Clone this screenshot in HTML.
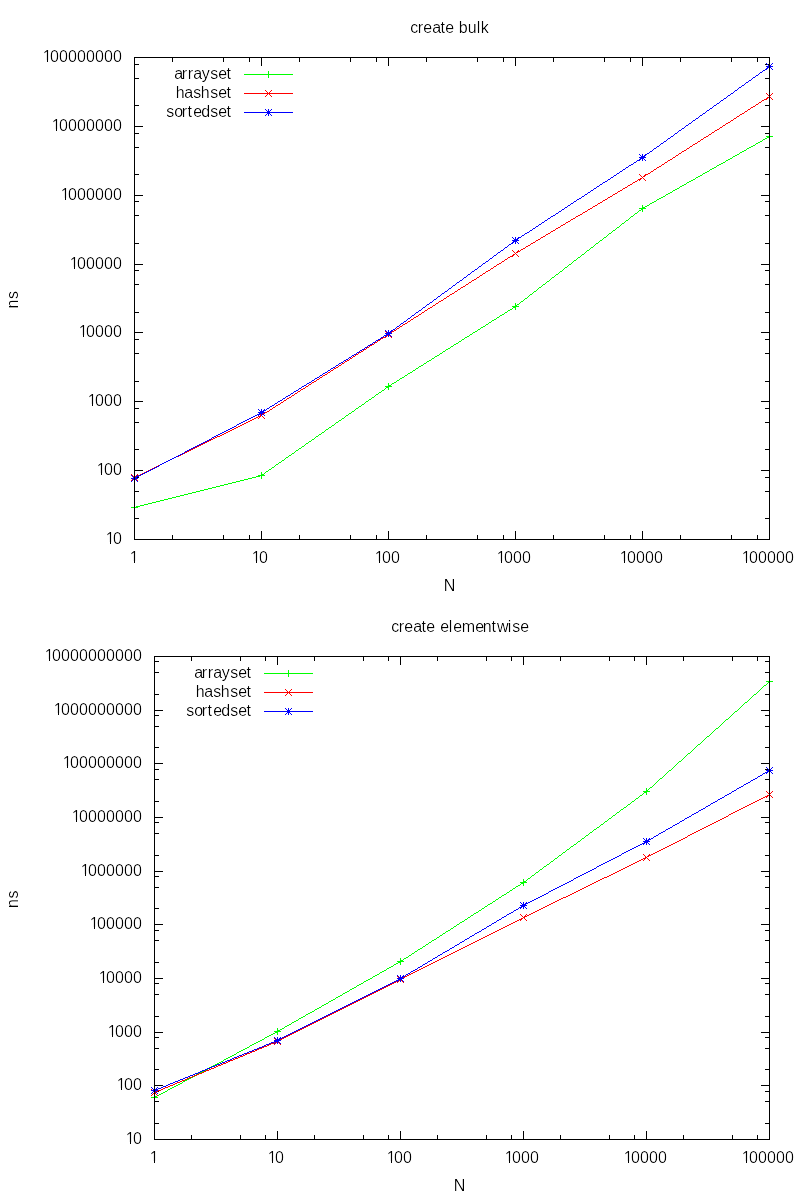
<!DOCTYPE html>
<html><head><meta charset="utf-8"><title>create bulk / create elementwise</title>
<style>
html,body{margin:0;padding:0;background:#fff;width:800px;height:1200px;overflow:hidden}
svg{display:block;will-change:transform}
text{shape-rendering:auto}
</style></head><body>
<svg width="800" height="1200" viewBox="0 0 800 1200" shape-rendering="crispEdges" font-family="'Liberation Sans', Arial, sans-serif" font-size="16" fill="#000"><path fill="#000" d="M134 57h9v1h-9zM172 57h1v5h-1zM223 57h1v5h-1zM249 57h1v5h-1zM261 57h1v9h-1zM299 57h1v5h-1zM350 57h1v5h-1zM376 57h1v5h-1zM388 57h1v9h-1zM426 57h1v5h-1zM477 57h1v5h-1zM503 57h1v5h-1zM515 57h1v9h-1zM553 57h1v5h-1zM604 57h1v5h-1zM630 57h1v5h-1zM642 57h1v9h-1zM680 57h1v5h-1zM731 57h1v5h-1zM757 57h1v5h-1zM761 57h9v1h-9zM134 58h1v6h-1zM769 58h1v6h-1zM134 64h5v1h-5zM765 64h5v1h-5zM134 65h1v1h-1zM769 65h1v1h-1zM134 78h5v1h-5zM765 78h5v1h-5zM134 105h5v1h-5zM765 105h5v1h-5zM134 126h9v1h-9zM761 126h9v1h-9zM134 133h5v1h-5zM765 133h5v1h-5zM134 147h5v1h-5zM765 147h5v1h-5zM134 174h5v1h-5zM765 174h5v1h-5zM134 195h9v1h-9zM761 195h9v1h-9zM134 201h5v1h-5zM765 201h5v1h-5zM134 215h5v1h-5zM765 215h5v1h-5zM134 243h5v1h-5zM765 243h5v1h-5zM134 264h9v1h-9zM761 264h9v1h-9zM134 270h5v1h-5zM765 270h5v1h-5zM134 284h5v1h-5zM765 284h5v1h-5zM134 312h5v1h-5zM765 312h5v1h-5zM134 332h9v1h-9zM761 332h9v1h-9zM134 339h5v1h-5zM765 339h5v1h-5zM134 353h5v1h-5zM765 353h5v1h-5zM134 381h5v1h-5zM765 381h5v1h-5zM134 401h9v1h-9zM761 401h9v1h-9zM134 408h5v1h-5zM765 408h5v1h-5zM134 422h5v1h-5zM765 422h5v1h-5zM134 449h5v1h-5zM765 449h5v1h-5zM134 470h9v1h-9zM761 470h9v1h-9zM134 477h5v1h-5zM765 477h5v1h-5zM134 491h5v1h-5zM765 491h5v1h-5zM134 518h5v1h-5zM765 518h5v1h-5zM134 531h1v8h-1zM261 531h1v9h-1zM388 531h1v9h-1zM515 531h1v9h-1zM642 531h1v9h-1zM769 531h1v8h-1zM172 535h1v5h-1zM223 535h1v5h-1zM249 535h1v5h-1zM299 535h1v5h-1zM350 535h1v5h-1zM376 535h1v5h-1zM426 535h1v5h-1zM477 535h1v5h-1zM503 535h1v5h-1zM553 535h1v5h-1zM604 535h1v5h-1zM630 535h1v5h-1zM680 535h1v5h-1zM731 535h1v5h-1zM757 535h1v5h-1zM134 539h9v1h-9zM761 539h9v1h-9z"/>
<path fill="#00ff00" d="M769 133h1v3h-1zM766 136h7v1h-7zM767 137h3v1h-3zM765 138h2v1h-2zM769 138h1v2h-1zM763 139h2v1h-2zM762 140h1v1h-1zM760 141h2v1h-2zM758 142h2v1h-2zM756 143h2v1h-2zM755 144h1v1h-1zM753 145h2v1h-2zM751 146h2v1h-2zM749 147h2v1h-2zM747 148h2v1h-2zM746 149h1v1h-1zM744 150h2v1h-2zM742 151h2v1h-2zM740 152h2v1h-2zM739 153h1v1h-1zM737 154h2v1h-2zM735 155h2v1h-2zM733 156h2v1h-2zM732 157h1v1h-1zM730 158h2v1h-2zM728 159h2v1h-2zM726 160h2v1h-2zM725 161h1v1h-1zM723 162h2v1h-2zM721 163h2v1h-2zM719 164h2v1h-2zM717 165h2v1h-2zM716 166h1v1h-1zM714 167h2v1h-2zM712 168h2v1h-2zM710 169h2v1h-2zM709 170h1v1h-1zM707 171h2v1h-2zM705 172h2v1h-2zM703 173h2v1h-2zM702 174h1v1h-1zM700 175h2v1h-2zM698 176h2v1h-2zM696 177h2v1h-2zM695 178h1v1h-1zM693 179h2v1h-2zM691 180h2v1h-2zM689 181h2v1h-2zM687 182h2v1h-2zM686 183h1v1h-1zM684 184h2v1h-2zM682 185h2v1h-2zM680 186h2v1h-2zM679 187h1v1h-1zM677 188h2v1h-2zM675 189h2v1h-2zM673 190h2v1h-2zM672 191h1v1h-1zM670 192h2v1h-2zM668 193h2v1h-2zM666 194h2v1h-2zM665 195h1v1h-1zM663 196h2v1h-2zM661 197h2v1h-2zM659 198h2v1h-2zM657 199h2v1h-2zM656 200h1v1h-1zM654 201h2v1h-2zM652 202h2v1h-2zM650 203h2v1h-2zM649 204h1v1h-1zM642 205h1v2h-1zM647 205h2v1h-2zM645 206h2v1h-2zM642 207h3v1h-3zM639 208h7v1h-7zM641 209h2v1h-2zM639 210h2v1h-2zM642 210h1v2h-1zM638 211h1v1h-1zM637 212h1v1h-1zM635 213h2v1h-2zM634 214h1v1h-1zM633 215h1v1h-1zM631 216h2v1h-2zM630 217h1v1h-1zM629 218h1v1h-1zM628 219h1v1h-1zM626 220h2v1h-2zM625 221h1v1h-1zM624 222h1v1h-1zM622 223h2v1h-2zM621 224h1v1h-1zM620 225h1v1h-1zM619 226h1v1h-1zM617 227h2v1h-2zM616 228h1v1h-1zM615 229h1v1h-1zM613 230h2v1h-2zM612 231h1v1h-1zM611 232h1v1h-1zM609 233h2v1h-2zM608 234h1v1h-1zM607 235h1v1h-1zM606 236h1v1h-1zM604 237h2v1h-2zM603 238h1v1h-1zM602 239h1v1h-1zM600 240h2v1h-2zM599 241h1v1h-1zM598 242h1v1h-1zM596 243h2v1h-2zM595 244h1v1h-1zM594 245h1v1h-1zM593 246h1v1h-1zM591 247h2v1h-2zM590 248h1v1h-1zM589 249h1v1h-1zM587 250h2v1h-2zM586 251h1v1h-1zM585 252h1v1h-1zM584 253h1v1h-1zM582 254h2v1h-2zM581 255h1v1h-1zM580 256h1v1h-1zM578 257h2v1h-2zM577 258h1v1h-1zM576 259h1v1h-1zM574 260h2v1h-2zM573 261h1v1h-1zM572 262h1v1h-1zM571 263h1v1h-1zM569 264h2v1h-2zM568 265h1v1h-1zM567 266h1v1h-1zM565 267h2v1h-2zM564 268h1v1h-1zM563 269h1v1h-1zM562 270h1v1h-1zM560 271h2v1h-2zM559 272h1v1h-1zM558 273h1v1h-1zM556 274h2v1h-2zM555 275h1v1h-1zM554 276h1v1h-1zM552 277h2v1h-2zM551 278h1v1h-1zM550 279h1v1h-1zM549 280h1v1h-1zM547 281h2v1h-2zM546 282h1v1h-1zM545 283h1v1h-1zM543 284h2v1h-2zM542 285h1v1h-1zM541 286h1v1h-1zM539 287h2v1h-2zM538 288h1v1h-1zM537 289h1v1h-1zM536 290h1v1h-1zM534 291h2v1h-2zM533 292h1v1h-1zM532 293h1v1h-1zM530 294h2v1h-2zM529 295h1v1h-1zM528 296h1v1h-1zM527 297h1v1h-1zM525 298h2v1h-2zM524 299h1v1h-1zM523 300h1v1h-1zM521 301h2v1h-2zM520 302h1v1h-1zM515 303h1v2h-1zM519 303h1v1h-1zM517 304h2v1h-2zM515 305h2v1h-2zM512 306h7v1h-7zM513 307h3v1h-3zM512 308h1v1h-1zM515 308h1v2h-1zM510 309h2v1h-2zM508 310h2v1h-2zM507 311h1v1h-1zM505 312h2v1h-2zM504 313h1v1h-1zM502 314h2v1h-2zM500 315h2v1h-2zM499 316h1v1h-1zM497 317h2v1h-2zM496 318h1v1h-1zM494 319h2v1h-2zM492 320h2v1h-2zM491 321h1v1h-1zM489 322h2v1h-2zM488 323h1v1h-1zM486 324h2v1h-2zM485 325h1v1h-1zM483 326h2v1h-2zM481 327h2v1h-2zM480 328h1v1h-1zM478 329h2v1h-2zM477 330h1v1h-1zM475 331h2v1h-2zM473 332h2v1h-2zM472 333h1v1h-1zM470 334h2v1h-2zM469 335h1v1h-1zM467 336h2v1h-2zM465 337h2v1h-2zM464 338h1v1h-1zM462 339h2v1h-2zM461 340h1v1h-1zM459 341h2v1h-2zM458 342h1v1h-1zM456 343h2v1h-2zM454 344h2v1h-2zM453 345h1v1h-1zM451 346h2v1h-2zM450 347h1v1h-1zM448 348h2v1h-2zM446 349h2v1h-2zM445 350h1v1h-1zM443 351h2v1h-2zM442 352h1v1h-1zM440 353h2v1h-2zM439 354h1v1h-1zM437 355h2v1h-2zM435 356h2v1h-2zM434 357h1v1h-1zM432 358h2v1h-2zM431 359h1v1h-1zM429 360h2v1h-2zM427 361h2v1h-2zM426 362h1v1h-1zM424 363h2v1h-2zM423 364h1v1h-1zM421 365h2v1h-2zM419 366h2v1h-2zM418 367h1v1h-1zM416 368h2v1h-2zM415 369h1v1h-1zM413 370h2v1h-2zM412 371h1v1h-1zM410 372h2v1h-2zM408 373h2v1h-2zM407 374h1v1h-1zM405 375h2v1h-2zM404 376h1v1h-1zM402 377h2v1h-2zM400 378h2v1h-2zM399 379h1v1h-1zM397 380h2v1h-2zM396 381h1v1h-1zM394 382h2v1h-2zM388 383h1v2h-1zM392 383h2v1h-2zM391 384h1v1h-1zM388 385h3v1h-3zM385 386h7v1h-7zM386 387h3v1h-3zM385 388h1v1h-1zM388 388h1v2h-1zM384 389h1v1h-1zM382 390h2v1h-2zM381 391h1v1h-1zM379 392h2v1h-2zM378 393h1v1h-1zM376 394h2v1h-2zM375 395h1v1h-1zM374 396h1v1h-1zM372 397h2v1h-2zM371 398h1v1h-1zM369 399h2v1h-2zM368 400h1v1h-1zM366 401h2v1h-2zM365 402h1v1h-1zM364 403h1v1h-1zM362 404h2v1h-2zM361 405h1v1h-1zM359 406h2v1h-2zM358 407h1v1h-1zM356 408h2v1h-2zM355 409h1v1h-1zM354 410h1v1h-1zM352 411h2v1h-2zM351 412h1v1h-1zM349 413h2v1h-2zM348 414h1v1h-1zM346 415h2v1h-2zM345 416h1v1h-1zM344 417h1v1h-1zM342 418h2v1h-2zM341 419h1v1h-1zM339 420h2v1h-2zM338 421h1v1h-1zM336 422h2v1h-2zM335 423h1v1h-1zM334 424h1v1h-1zM332 425h2v1h-2zM331 426h1v1h-1zM329 427h2v1h-2zM328 428h1v1h-1zM326 429h2v1h-2zM325 430h1v1h-1zM324 431h1v1h-1zM322 432h2v1h-2zM321 433h1v1h-1zM319 434h2v1h-2zM318 435h1v1h-1zM316 436h2v1h-2zM315 437h1v1h-1zM314 438h1v1h-1zM312 439h2v1h-2zM311 440h1v1h-1zM309 441h2v1h-2zM308 442h1v1h-1zM306 443h2v1h-2zM305 444h1v1h-1zM304 445h1v1h-1zM302 446h2v1h-2zM301 447h1v1h-1zM299 448h2v1h-2zM298 449h1v1h-1zM296 450h2v1h-2zM295 451h1v1h-1zM294 452h1v1h-1zM292 453h2v1h-2zM291 454h1v1h-1zM289 455h2v1h-2zM288 456h1v1h-1zM286 457h2v1h-2zM285 458h1v1h-1zM284 459h1v1h-1zM282 460h2v1h-2zM281 461h1v1h-1zM279 462h2v1h-2zM278 463h1v1h-1zM276 464h2v1h-2zM275 465h1v1h-1zM274 466h1v1h-1zM272 467h2v1h-2zM271 468h1v1h-1zM269 469h2v1h-2zM268 470h1v1h-1zM266 471h2v1h-2zM261 472h1v2h-1zM265 472h1v1h-1zM264 473h1v1h-1zM261 474h3v1h-3zM258 475h7v1h-7zM256 476h4v1h-4zM261 476h1v3h-1zM252 477h4v1h-4zM248 478h4v1h-4zM244 479h4v1h-4zM240 480h4v1h-4zM236 481h4v1h-4zM232 482h4v1h-4zM228 483h4v1h-4zM224 484h4v1h-4zM220 485h4v1h-4zM216 486h4v1h-4zM212 487h4v1h-4zM208 488h4v1h-4zM204 489h4v1h-4zM200 490h4v1h-4zM196 491h4v1h-4zM192 492h4v1h-4zM188 493h4v1h-4zM184 494h4v1h-4zM180 495h4v1h-4zM176 496h4v1h-4zM172 497h4v1h-4zM168 498h4v1h-4zM164 499h4v1h-4zM160 500h4v1h-4zM156 501h4v1h-4zM152 502h4v1h-4zM148 503h4v1h-4zM134 504h1v3h-1zM144 504h4v1h-4zM140 505h4v1h-4zM136 506h4v1h-4zM131 507h7v1h-7zM134 508h1v3h-1z"/>
<path fill="#ff0000" d="M766 93h1v1h-1zM772 93h1v1h-1zM767 94h1v1h-1zM771 94h1v1h-1zM768 95h1v1h-1zM770 95h1v1h-1zM769 96h1v1h-1zM767 97h2v1h-2zM770 97h1v1h-1zM766 98h2v1h-2zM771 98h1v1h-1zM764 99h3v1h-3zM772 99h1v1h-1zM762 100h2v1h-2zM761 101h1v1h-1zM759 102h2v1h-2zM758 103h1v1h-1zM756 104h2v1h-2zM755 105h1v1h-1zM753 106h2v1h-2zM751 107h2v1h-2zM750 108h1v1h-1zM748 109h2v1h-2zM747 110h1v1h-1zM745 111h2v1h-2zM744 112h1v1h-1zM742 113h2v1h-2zM740 114h2v1h-2zM739 115h1v1h-1zM737 116h2v1h-2zM736 117h1v1h-1zM734 118h2v1h-2zM733 119h1v1h-1zM731 120h2v1h-2zM730 121h1v1h-1zM728 122h2v1h-2zM726 123h2v1h-2zM725 124h1v1h-1zM723 125h2v1h-2zM722 126h1v1h-1zM720 127h2v1h-2zM719 128h1v1h-1zM717 129h2v1h-2zM715 130h2v1h-2zM714 131h1v1h-1zM712 132h2v1h-2zM711 133h1v1h-1zM709 134h2v1h-2zM708 135h1v1h-1zM706 136h2v1h-2zM704 137h2v1h-2zM703 138h1v1h-1zM701 139h2v1h-2zM700 140h1v1h-1zM698 141h2v1h-2zM697 142h1v1h-1zM695 143h2v1h-2zM693 144h2v1h-2zM692 145h1v1h-1zM690 146h2v1h-2zM689 147h1v1h-1zM687 148h2v1h-2zM686 149h1v1h-1zM684 150h2v1h-2zM682 151h2v1h-2zM681 152h1v1h-1zM679 153h2v1h-2zM678 154h1v1h-1zM676 155h2v1h-2zM675 156h1v1h-1zM673 157h2v1h-2zM672 158h1v1h-1zM670 159h2v1h-2zM668 160h2v1h-2zM667 161h1v1h-1zM665 162h2v1h-2zM664 163h1v1h-1zM662 164h2v1h-2zM661 165h1v1h-1zM659 166h2v1h-2zM657 167h2v1h-2zM656 168h1v1h-1zM654 169h2v1h-2zM653 170h1v1h-1zM651 171h2v1h-2zM650 172h1v1h-1zM648 173h2v1h-2zM639 174h1v1h-1zM645 174h3v1h-3zM640 175h1v1h-1zM644 175h2v1h-2zM641 176h1v1h-1zM643 176h2v1h-2zM642 177h1v1h-1zM640 178h2v1h-2zM643 178h1v1h-1zM638 179h3v1h-3zM644 179h1v1h-1zM637 180h1v1h-1zM639 180h1v1h-1zM645 180h1v1h-1zM635 181h2v1h-2zM633 182h2v1h-2zM632 183h1v1h-1zM630 184h2v1h-2zM628 185h2v1h-2zM627 186h1v1h-1zM625 187h2v1h-2zM623 188h2v1h-2zM622 189h1v1h-1zM620 190h2v1h-2zM618 191h2v1h-2zM617 192h1v1h-1zM615 193h2v1h-2zM613 194h2v1h-2zM612 195h1v1h-1zM610 196h2v1h-2zM608 197h2v1h-2zM607 198h1v1h-1zM605 199h2v1h-2zM603 200h2v1h-2zM602 201h1v1h-1zM600 202h2v1h-2zM598 203h2v1h-2zM597 204h1v1h-1zM595 205h2v1h-2zM593 206h2v1h-2zM592 207h1v1h-1zM590 208h2v1h-2zM588 209h2v1h-2zM587 210h1v1h-1zM585 211h2v1h-2zM583 212h2v1h-2zM582 213h1v1h-1zM580 214h2v1h-2zM578 215h2v1h-2zM576 216h2v1h-2zM575 217h1v1h-1zM573 218h2v1h-2zM571 219h2v1h-2zM570 220h1v1h-1zM568 221h2v1h-2zM566 222h2v1h-2zM565 223h1v1h-1zM563 224h2v1h-2zM561 225h2v1h-2zM560 226h1v1h-1zM558 227h2v1h-2zM556 228h2v1h-2zM555 229h1v1h-1zM553 230h2v1h-2zM551 231h2v1h-2zM550 232h1v1h-1zM548 233h2v1h-2zM546 234h2v1h-2zM545 235h1v1h-1zM543 236h2v1h-2zM541 237h2v1h-2zM540 238h1v1h-1zM538 239h2v1h-2zM536 240h2v1h-2zM535 241h1v1h-1zM533 242h2v1h-2zM531 243h2v1h-2zM530 244h1v1h-1zM528 245h2v1h-2zM526 246h2v1h-2zM525 247h1v1h-1zM523 248h2v1h-2zM521 249h2v1h-2zM512 250h1v1h-1zM518 250h1v1h-1zM520 250h1v1h-1zM513 251h1v1h-1zM517 251h3v1h-3zM514 252h1v1h-1zM516 252h2v1h-2zM515 253h1v1h-1zM513 254h2v1h-2zM516 254h1v1h-1zM512 255h2v1h-2zM517 255h1v1h-1zM510 256h3v1h-3zM518 256h1v1h-1zM508 257h2v1h-2zM507 258h1v1h-1zM505 259h2v1h-2zM504 260h1v1h-1zM502 261h2v1h-2zM501 262h1v1h-1zM499 263h2v1h-2zM497 264h2v1h-2zM496 265h1v1h-1zM494 266h2v1h-2zM493 267h1v1h-1zM491 268h2v1h-2zM490 269h1v1h-1zM488 270h2v1h-2zM486 271h2v1h-2zM485 272h1v1h-1zM483 273h2v1h-2zM482 274h1v1h-1zM480 275h2v1h-2zM479 276h1v1h-1zM477 277h2v1h-2zM476 278h1v1h-1zM474 279h2v1h-2zM472 280h2v1h-2zM471 281h1v1h-1zM469 282h2v1h-2zM468 283h1v1h-1zM466 284h2v1h-2zM465 285h1v1h-1zM463 286h2v1h-2zM461 287h2v1h-2zM460 288h1v1h-1zM458 289h2v1h-2zM457 290h1v1h-1zM455 291h2v1h-2zM454 292h1v1h-1zM452 293h2v1h-2zM450 294h2v1h-2zM449 295h1v1h-1zM447 296h2v1h-2zM446 297h1v1h-1zM444 298h2v1h-2zM443 299h1v1h-1zM441 300h2v1h-2zM439 301h2v1h-2zM438 302h1v1h-1zM436 303h2v1h-2zM435 304h1v1h-1zM433 305h2v1h-2zM432 306h1v1h-1zM430 307h2v1h-2zM428 308h2v1h-2zM427 309h1v1h-1zM425 310h2v1h-2zM424 311h1v1h-1zM422 312h2v1h-2zM421 313h1v1h-1zM419 314h2v1h-2zM418 315h1v1h-1zM416 316h2v1h-2zM414 317h2v1h-2zM413 318h1v1h-1zM411 319h2v1h-2zM410 320h1v1h-1zM408 321h2v1h-2zM407 322h1v1h-1zM405 323h2v1h-2zM403 324h2v1h-2zM402 325h1v1h-1zM400 326h2v1h-2zM399 327h1v1h-1zM397 328h2v1h-2zM396 329h1v1h-1zM394 330h2v1h-2zM385 331h1v1h-1zM391 331h3v1h-3zM386 332h1v1h-1zM390 332h2v1h-2zM387 333h1v1h-1zM389 333h2v1h-2zM388 334h1v1h-1zM386 335h2v1h-2zM389 335h1v1h-1zM385 336h2v1h-2zM390 336h1v1h-1zM383 337h3v1h-3zM391 337h1v1h-1zM381 338h2v1h-2zM380 339h1v1h-1zM378 340h2v1h-2zM377 341h1v1h-1zM375 342h2v1h-2zM374 343h1v1h-1zM372 344h2v1h-2zM370 345h2v1h-2zM369 346h1v1h-1zM367 347h2v1h-2zM366 348h1v1h-1zM364 349h2v1h-2zM363 350h1v1h-1zM361 351h2v1h-2zM359 352h2v1h-2zM358 353h1v1h-1zM356 354h2v1h-2zM355 355h1v1h-1zM353 356h2v1h-2zM352 357h1v1h-1zM350 358h2v1h-2zM349 359h1v1h-1zM347 360h2v1h-2zM345 361h2v1h-2zM344 362h1v1h-1zM342 363h2v1h-2zM341 364h1v1h-1zM339 365h2v1h-2zM338 366h1v1h-1zM336 367h2v1h-2zM334 368h2v1h-2zM333 369h1v1h-1zM331 370h2v1h-2zM330 371h1v1h-1zM328 372h2v1h-2zM327 373h1v1h-1zM325 374h2v1h-2zM323 375h2v1h-2zM322 376h1v1h-1zM320 377h2v1h-2zM319 378h1v1h-1zM317 379h2v1h-2zM316 380h1v1h-1zM314 381h2v1h-2zM312 382h2v1h-2zM311 383h1v1h-1zM309 384h2v1h-2zM308 385h1v1h-1zM306 386h2v1h-2zM305 387h1v1h-1zM303 388h2v1h-2zM301 389h2v1h-2zM300 390h1v1h-1zM298 391h2v1h-2zM297 392h1v1h-1zM295 393h2v1h-2zM294 394h1v1h-1zM292 395h2v1h-2zM291 396h1v1h-1zM289 397h2v1h-2zM287 398h2v1h-2zM286 399h1v1h-1zM284 400h2v1h-2zM283 401h1v1h-1zM281 402h2v1h-2zM280 403h1v1h-1zM278 404h2v1h-2zM276 405h2v1h-2zM275 406h1v1h-1zM273 407h2v1h-2zM272 408h1v1h-1zM270 409h2v1h-2zM269 410h1v1h-1zM267 411h2v1h-2zM258 412h1v1h-1zM264 412h3v1h-3zM259 413h1v1h-1zM263 413h2v1h-2zM260 414h1v1h-1zM262 414h2v1h-2zM260 415h2v1h-2zM258 416h3v1h-3zM262 416h1v1h-1zM256 417h2v1h-2zM259 417h1v1h-1zM263 417h1v1h-1zM254 418h2v1h-2zM258 418h1v1h-1zM264 418h1v1h-1zM252 419h2v1h-2zM250 420h2v1h-2zM248 421h2v1h-2zM246 422h2v1h-2zM244 423h2v1h-2zM242 424h2v1h-2zM240 425h2v1h-2zM238 426h2v1h-2zM236 427h2v1h-2zM234 428h2v1h-2zM232 429h2v1h-2zM230 430h2v1h-2zM228 431h2v1h-2zM226 432h2v1h-2zM224 433h2v1h-2zM222 434h2v1h-2zM220 435h2v1h-2zM217 436h3v1h-3zM215 437h2v1h-2zM213 438h2v1h-2zM211 439h2v1h-2zM209 440h2v1h-2zM207 441h2v1h-2zM205 442h2v1h-2zM203 443h2v1h-2zM201 444h2v1h-2zM199 445h2v1h-2zM197 446h2v1h-2zM195 447h2v1h-2zM193 448h2v1h-2zM191 449h2v1h-2zM189 450h2v1h-2zM187 451h2v1h-2zM185 452h2v1h-2zM183 453h2v1h-2zM181 454h2v1h-2zM179 455h2v1h-2zM176 456h3v1h-3zM174 457h2v1h-2zM172 458h2v1h-2zM170 459h2v1h-2zM168 460h2v1h-2zM166 461h2v1h-2zM164 462h2v1h-2zM162 463h2v1h-2zM160 464h2v1h-2zM158 465h2v1h-2zM156 466h2v1h-2zM154 467h2v1h-2zM152 468h2v1h-2zM150 469h2v1h-2zM148 470h2v1h-2zM146 471h2v1h-2zM144 472h2v1h-2zM142 473h2v1h-2zM131 474h1v1h-1zM137 474h1v1h-1zM140 474h2v1h-2zM132 475h1v1h-1zM136 475h1v1h-1zM138 475h2v1h-2zM133 476h1v1h-1zM135 476h3v1h-3zM134 477h2v1h-2zM133 478h1v1h-1zM135 478h1v1h-1zM132 479h1v1h-1zM136 479h1v1h-1zM131 480h1v1h-1zM137 480h1v1h-1z"/>
<path fill="#0000ff" d="M766 63h1v1h-1zM769 63h1v2h-1zM772 63h1v1h-1zM767 64h1v1h-1zM771 64h1v1h-1zM768 65h3v1h-3zM766 66h7v1h-7zM767 67h4v1h-4zM766 68h2v1h-2zM769 68h1v2h-1zM771 68h1v1h-1zM765 69h2v1h-2zM772 69h1v1h-1zM763 70h2v1h-2zM762 71h1v1h-1zM760 72h2v1h-2zM759 73h1v1h-1zM758 74h1v1h-1zM756 75h2v1h-2zM755 76h1v1h-1zM753 77h2v1h-2zM752 78h1v1h-1zM751 79h1v1h-1zM749 80h2v1h-2zM748 81h1v1h-1zM746 82h2v1h-2zM745 83h1v1h-1zM744 84h1v1h-1zM742 85h2v1h-2zM741 86h1v1h-1zM739 87h2v1h-2zM738 88h1v1h-1zM737 89h1v1h-1zM735 90h2v1h-2zM734 91h1v1h-1zM733 92h1v1h-1zM731 93h2v1h-2zM730 94h1v1h-1zM728 95h2v1h-2zM727 96h1v1h-1zM726 97h1v1h-1zM724 98h2v1h-2zM723 99h1v1h-1zM721 100h2v1h-2zM720 101h1v1h-1zM719 102h1v1h-1zM717 103h2v1h-2zM716 104h1v1h-1zM714 105h2v1h-2zM713 106h1v1h-1zM712 107h1v1h-1zM710 108h2v1h-2zM709 109h1v1h-1zM707 110h2v1h-2zM706 111h1v1h-1zM705 112h1v1h-1zM703 113h2v1h-2zM702 114h1v1h-1zM700 115h2v1h-2zM699 116h1v1h-1zM698 117h1v1h-1zM696 118h2v1h-2zM695 119h1v1h-1zM693 120h2v1h-2zM692 121h1v1h-1zM691 122h1v1h-1zM689 123h2v1h-2zM688 124h1v1h-1zM686 125h2v1h-2zM685 126h1v1h-1zM684 127h1v1h-1zM682 128h2v1h-2zM681 129h1v1h-1zM679 130h2v1h-2zM678 131h1v1h-1zM677 132h1v1h-1zM675 133h2v1h-2zM674 134h1v1h-1zM673 135h1v1h-1zM671 136h2v1h-2zM670 137h1v1h-1zM668 138h2v1h-2zM667 139h1v1h-1zM666 140h1v1h-1zM664 141h2v1h-2zM663 142h1v1h-1zM661 143h2v1h-2zM660 144h1v1h-1zM659 145h1v1h-1zM657 146h2v1h-2zM656 147h1v1h-1zM654 148h2v1h-2zM653 149h1v1h-1zM652 150h1v1h-1zM650 151h2v1h-2zM649 152h1v1h-1zM647 153h2v1h-2zM639 154h1v1h-1zM642 154h1v2h-1zM645 154h2v1h-2zM640 155h1v1h-1zM644 155h2v1h-2zM641 156h4v1h-4zM639 157h7v1h-7zM640 158h4v1h-4zM639 159h2v1h-2zM642 159h1v2h-1zM644 159h1v1h-1zM637 160h3v1h-3zM645 160h1v1h-1zM636 161h1v1h-1zM634 162h2v1h-2zM633 163h1v1h-1zM631 164h2v1h-2zM629 165h2v1h-2zM628 166h1v1h-1zM626 167h2v1h-2zM625 168h1v1h-1zM623 169h2v1h-2zM622 170h1v1h-1zM620 171h2v1h-2zM619 172h1v1h-1zM617 173h2v1h-2zM616 174h1v1h-1zM614 175h2v1h-2zM613 176h1v1h-1zM611 177h2v1h-2zM610 178h1v1h-1zM608 179h2v1h-2zM607 180h1v1h-1zM605 181h2v1h-2zM603 182h2v1h-2zM602 183h1v1h-1zM600 184h2v1h-2zM599 185h1v1h-1zM597 186h2v1h-2zM596 187h1v1h-1zM594 188h2v1h-2zM593 189h1v1h-1zM591 190h2v1h-2zM590 191h1v1h-1zM588 192h2v1h-2zM587 193h1v1h-1zM585 194h2v1h-2zM584 195h1v1h-1zM582 196h2v1h-2zM581 197h1v1h-1zM579 198h2v1h-2zM577 199h2v1h-2zM576 200h1v1h-1zM574 201h2v1h-2zM573 202h1v1h-1zM571 203h2v1h-2zM570 204h1v1h-1zM568 205h2v1h-2zM567 206h1v1h-1zM565 207h2v1h-2zM564 208h1v1h-1zM562 209h2v1h-2zM561 210h1v1h-1zM559 211h2v1h-2zM558 212h1v1h-1zM556 213h2v1h-2zM555 214h1v1h-1zM553 215h2v1h-2zM551 216h2v1h-2zM550 217h1v1h-1zM548 218h2v1h-2zM547 219h1v1h-1zM545 220h2v1h-2zM544 221h1v1h-1zM542 222h2v1h-2zM541 223h1v1h-1zM539 224h2v1h-2zM538 225h1v1h-1zM536 226h2v1h-2zM535 227h1v1h-1zM533 228h2v1h-2zM532 229h1v1h-1zM530 230h2v1h-2zM529 231h1v1h-1zM527 232h2v1h-2zM525 233h2v1h-2zM524 234h1v1h-1zM522 235h2v1h-2zM521 236h1v1h-1zM512 237h1v1h-1zM515 237h1v2h-1zM518 237h3v1h-3zM513 238h1v1h-1zM517 238h2v1h-2zM514 239h4v1h-4zM512 240h7v1h-7zM513 241h4v1h-4zM512 242h2v1h-2zM515 242h1v2h-1zM517 242h1v1h-1zM511 243h2v1h-2zM518 243h1v1h-1zM509 244h2v1h-2zM508 245h1v1h-1zM507 246h1v1h-1zM505 247h2v1h-2zM504 248h1v1h-1zM503 249h1v1h-1zM501 250h2v1h-2zM500 251h1v1h-1zM498 252h2v1h-2zM497 253h1v1h-1zM496 254h1v1h-1zM494 255h2v1h-2zM493 256h1v1h-1zM492 257h1v1h-1zM490 258h2v1h-2zM489 259h1v1h-1zM488 260h1v1h-1zM486 261h2v1h-2zM485 262h1v1h-1zM483 263h2v1h-2zM482 264h1v1h-1zM481 265h1v1h-1zM479 266h2v1h-2zM478 267h1v1h-1zM477 268h1v1h-1zM475 269h2v1h-2zM474 270h1v1h-1zM472 271h2v1h-2zM471 272h1v1h-1zM470 273h1v1h-1zM468 274h2v1h-2zM467 275h1v1h-1zM466 276h1v1h-1zM464 277h2v1h-2zM463 278h1v1h-1zM462 279h1v1h-1zM460 280h2v1h-2zM459 281h1v1h-1zM457 282h2v1h-2zM456 283h1v1h-1zM455 284h1v1h-1zM453 285h2v1h-2zM452 286h1v1h-1zM451 287h1v1h-1zM449 288h2v1h-2zM448 289h1v1h-1zM447 290h1v1h-1zM445 291h2v1h-2zM444 292h1v1h-1zM442 293h2v1h-2zM441 294h1v1h-1zM440 295h1v1h-1zM438 296h2v1h-2zM437 297h1v1h-1zM436 298h1v1h-1zM434 299h2v1h-2zM433 300h1v1h-1zM432 301h1v1h-1zM430 302h2v1h-2zM429 303h1v1h-1zM427 304h2v1h-2zM426 305h1v1h-1zM425 306h1v1h-1zM423 307h2v1h-2zM422 308h1v1h-1zM421 309h1v1h-1zM419 310h2v1h-2zM418 311h1v1h-1zM416 312h2v1h-2zM415 313h1v1h-1zM414 314h1v1h-1zM412 315h2v1h-2zM411 316h1v1h-1zM410 317h1v1h-1zM408 318h2v1h-2zM407 319h1v1h-1zM406 320h1v1h-1zM404 321h2v1h-2zM403 322h1v1h-1zM401 323h2v1h-2zM400 324h1v1h-1zM399 325h1v1h-1zM397 326h2v1h-2zM396 327h1v1h-1zM395 328h1v1h-1zM393 329h2v1h-2zM385 330h1v1h-1zM388 330h1v2h-1zM391 330h2v1h-2zM386 331h1v1h-1zM390 331h2v1h-2zM387 332h4v1h-4zM385 333h7v1h-7zM386 334h4v1h-4zM384 335h3v1h-3zM388 335h1v2h-1zM390 335h1v1h-1zM383 336h1v1h-1zM385 336h1v1h-1zM391 336h1v1h-1zM381 337h2v1h-2zM380 338h1v1h-1zM378 339h2v1h-2zM376 340h2v1h-2zM375 341h1v1h-1zM373 342h2v1h-2zM372 343h1v1h-1zM370 344h2v1h-2zM368 345h2v1h-2zM367 346h1v1h-1zM365 347h2v1h-2zM364 348h1v1h-1zM362 349h2v1h-2zM360 350h2v1h-2zM359 351h1v1h-1zM357 352h2v1h-2zM356 353h1v1h-1zM354 354h2v1h-2zM352 355h2v1h-2zM351 356h1v1h-1zM349 357h2v1h-2zM348 358h1v1h-1zM346 359h2v1h-2zM344 360h2v1h-2zM343 361h1v1h-1zM341 362h2v1h-2zM339 363h2v1h-2zM338 364h1v1h-1zM336 365h2v1h-2zM335 366h1v1h-1zM333 367h2v1h-2zM331 368h2v1h-2zM330 369h1v1h-1zM328 370h2v1h-2zM327 371h1v1h-1zM325 372h2v1h-2zM323 373h2v1h-2zM322 374h1v1h-1zM320 375h2v1h-2zM319 376h1v1h-1zM317 377h2v1h-2zM315 378h2v1h-2zM314 379h1v1h-1zM312 380h2v1h-2zM311 381h1v1h-1zM309 382h2v1h-2zM307 383h2v1h-2zM306 384h1v1h-1zM304 385h2v1h-2zM302 386h2v1h-2zM301 387h1v1h-1zM299 388h2v1h-2zM298 389h1v1h-1zM296 390h2v1h-2zM294 391h2v1h-2zM293 392h1v1h-1zM291 393h2v1h-2zM290 394h1v1h-1zM288 395h2v1h-2zM286 396h2v1h-2zM285 397h1v1h-1zM283 398h2v1h-2zM282 399h1v1h-1zM280 400h2v1h-2zM278 401h2v1h-2zM277 402h1v1h-1zM275 403h2v1h-2zM274 404h1v1h-1zM272 405h2v1h-2zM270 406h2v1h-2zM269 407h1v1h-1zM267 408h2v1h-2zM258 409h1v1h-1zM261 409h1v2h-1zM264 409h1v1h-1zM266 409h1v1h-1zM259 410h1v1h-1zM263 410h3v1h-3zM260 411h4v1h-4zM258 412h7v1h-7zM259 413h4v1h-4zM257 414h3v1h-3zM261 414h1v2h-1zM263 414h1v1h-1zM255 415h2v1h-2zM258 415h1v1h-1zM264 415h1v1h-1zM253 416h2v1h-2zM251 417h2v1h-2zM249 418h2v1h-2zM247 419h2v1h-2zM245 420h2v1h-2zM243 421h2v1h-2zM241 422h2v1h-2zM239 423h2v1h-2zM237 424h2v1h-2zM236 425h1v1h-1zM234 426h2v1h-2zM232 427h2v1h-2zM230 428h2v1h-2zM228 429h2v1h-2zM226 430h2v1h-2zM224 431h2v1h-2zM222 432h2v1h-2zM220 433h2v1h-2zM218 434h2v1h-2zM216 435h2v1h-2zM214 436h2v1h-2zM212 437h2v1h-2zM211 438h1v1h-1zM209 439h2v1h-2zM207 440h2v1h-2zM205 441h2v1h-2zM203 442h2v1h-2zM201 443h2v1h-2zM199 444h2v1h-2zM197 445h2v1h-2zM195 446h2v1h-2zM193 447h2v1h-2zM191 448h2v1h-2zM189 449h2v1h-2zM187 450h2v1h-2zM185 451h2v1h-2zM184 452h1v1h-1zM182 453h2v1h-2zM180 454h2v1h-2zM178 455h2v1h-2zM176 456h2v1h-2zM174 457h2v1h-2zM172 458h2v1h-2zM170 459h2v1h-2zM168 460h2v1h-2zM166 461h2v1h-2zM164 462h2v1h-2zM162 463h2v1h-2zM160 464h2v1h-2zM159 465h1v1h-1zM157 466h2v1h-2zM155 467h2v1h-2zM153 468h2v1h-2zM151 469h2v1h-2zM149 470h2v1h-2zM147 471h2v1h-2zM145 472h2v1h-2zM143 473h2v1h-2zM141 474h2v1h-2zM131 475h1v1h-1zM134 475h1v2h-1zM137 475h1v1h-1zM139 475h2v1h-2zM132 476h1v1h-1zM136 476h3v1h-3zM133 477h4v1h-4zM131 478h7v1h-7zM133 479h3v1h-3zM132 480h1v1h-1zM134 480h1v2h-1zM136 480h1v1h-1zM131 481h1v1h-1zM137 481h1v1h-1z"/>
<path fill="#00ff00" d="M268 71h1v3h-1zM244 74h49v1h-49zM268 75h1v3h-1z"/>
<path fill="#ff0000" d="M265 90h1v1h-1zM271 90h1v1h-1zM266 91h1v1h-1zM270 91h1v1h-1zM267 92h1v1h-1zM269 92h1v1h-1zM244 93h49v1h-49zM267 94h1v1h-1zM269 94h1v1h-1zM266 95h1v1h-1zM270 95h1v1h-1zM265 96h1v1h-1zM271 96h1v1h-1z"/>
<path fill="#0000ff" d="M265 109h1v1h-1zM268 109h1v2h-1zM271 109h1v1h-1zM266 110h1v1h-1zM270 110h1v1h-1zM267 111h3v1h-3zM244 112h49v1h-49zM267 113h3v1h-3zM266 114h1v1h-1zM268 114h1v2h-1zM270 114h1v1h-1zM265 115h1v1h-1zM271 115h1v1h-1z"/>
<path fill="#000" d="M134 57h636v1h-636zM134 58h1v481h-1zM769 58h1v481h-1zM134 539h636v1h-636z"/>
<path fill="#000" d="M154 656h9v1h-9zM191 656h1v5h-1zM240 656h1v5h-1zM265 656h1v5h-1zM277 656h1v9h-1zM314 656h1v5h-1zM363 656h1v5h-1zM388 656h1v5h-1zM400 656h1v9h-1zM437 656h1v5h-1zM486 656h1v5h-1zM511 656h1v5h-1zM523 656h1v9h-1zM560 656h1v5h-1zM609 656h1v5h-1zM634 656h1v5h-1zM646 656h1v9h-1zM683 656h1v5h-1zM732 656h1v5h-1zM757 656h1v5h-1zM761 656h9v1h-9zM154 657h1v4h-1zM769 657h1v4h-1zM154 661h5v1h-5zM765 661h5v1h-5zM154 662h1v3h-1zM769 662h1v3h-1zM154 672h5v1h-5zM765 672h5v1h-5zM154 694h5v1h-5zM765 694h5v1h-5zM154 710h9v1h-9zM761 710h9v1h-9zM154 715h5v1h-5zM765 715h5v1h-5zM154 726h5v1h-5zM765 726h5v1h-5zM154 747h5v1h-5zM765 747h5v1h-5zM154 763h9v1h-9zM761 763h9v1h-9zM154 769h5v1h-5zM765 769h5v1h-5zM154 779h5v1h-5zM765 779h5v1h-5zM154 801h5v1h-5zM765 801h5v1h-5zM154 817h9v1h-9zM761 817h9v1h-9zM154 822h5v1h-5zM765 822h5v1h-5zM154 833h5v1h-5zM765 833h5v1h-5zM154 855h5v1h-5zM765 855h5v1h-5zM154 871h9v1h-9zM761 871h9v1h-9zM154 876h5v1h-5zM765 876h5v1h-5zM154 887h5v1h-5zM765 887h5v1h-5zM154 908h5v1h-5zM765 908h5v1h-5zM154 924h9v1h-9zM761 924h9v1h-9zM154 930h5v1h-5zM765 930h5v1h-5zM154 940h5v1h-5zM765 940h5v1h-5zM154 962h5v1h-5zM765 962h5v1h-5zM154 978h9v1h-9zM761 978h9v1h-9zM154 983h5v1h-5zM765 983h5v1h-5zM154 994h5v1h-5zM765 994h5v1h-5zM154 1016h5v1h-5zM765 1016h5v1h-5zM154 1032h9v1h-9zM761 1032h9v1h-9zM154 1037h5v1h-5zM765 1037h5v1h-5zM154 1048h5v1h-5zM765 1048h5v1h-5zM154 1069h5v1h-5zM765 1069h5v1h-5zM154 1085h9v1h-9zM761 1085h9v1h-9zM154 1091h5v1h-5zM765 1091h5v1h-5zM154 1101h5v1h-5zM765 1101h5v1h-5zM154 1123h5v1h-5zM765 1123h5v1h-5zM154 1131h1v8h-1zM277 1131h1v9h-1zM400 1131h1v9h-1zM523 1131h1v9h-1zM646 1131h1v9h-1zM769 1131h1v8h-1zM191 1135h1v5h-1zM240 1135h1v5h-1zM265 1135h1v5h-1zM314 1135h1v5h-1zM363 1135h1v5h-1zM388 1135h1v5h-1zM437 1135h1v5h-1zM486 1135h1v5h-1zM511 1135h1v5h-1zM560 1135h1v5h-1zM609 1135h1v5h-1zM634 1135h1v5h-1zM683 1135h1v5h-1zM732 1135h1v5h-1zM757 1135h1v5h-1zM154 1139h9v1h-9zM761 1139h9v1h-9z"/>
<path fill="#00ff00" d="M769 678h1v3h-1zM766 681h7v1h-7zM768 682h2v1h-2zM767 683h1v1h-1zM769 683h1v2h-1zM766 684h1v1h-1zM764 685h2v1h-2zM763 686h1v1h-1zM762 687h1v1h-1zM761 688h1v1h-1zM760 689h1v1h-1zM759 690h1v1h-1zM758 691h1v1h-1zM757 692h1v1h-1zM756 693h1v1h-1zM754 694h2v1h-2zM753 695h1v1h-1zM752 696h1v1h-1zM751 697h1v1h-1zM750 698h1v1h-1zM749 699h1v1h-1zM748 700h1v1h-1zM747 701h1v1h-1zM745 702h2v1h-2zM744 703h1v1h-1zM743 704h1v1h-1zM742 705h1v1h-1zM741 706h1v1h-1zM740 707h1v1h-1zM739 708h1v1h-1zM738 709h1v1h-1zM737 710h1v1h-1zM735 711h2v1h-2zM734 712h1v1h-1zM733 713h1v1h-1zM732 714h1v1h-1zM731 715h1v1h-1zM730 716h1v1h-1zM729 717h1v1h-1zM728 718h1v1h-1zM726 719h2v1h-2zM725 720h1v1h-1zM724 721h1v1h-1zM723 722h1v1h-1zM722 723h1v1h-1zM721 724h1v1h-1zM720 725h1v1h-1zM719 726h1v1h-1zM718 727h1v1h-1zM716 728h2v1h-2zM715 729h1v1h-1zM714 730h1v1h-1zM713 731h1v1h-1zM712 732h1v1h-1zM711 733h1v1h-1zM710 734h1v1h-1zM709 735h1v1h-1zM707 736h2v1h-2zM706 737h1v1h-1zM705 738h1v1h-1zM704 739h1v1h-1zM703 740h1v1h-1zM702 741h1v1h-1zM701 742h1v1h-1zM700 743h1v1h-1zM698 744h2v1h-2zM697 745h1v1h-1zM696 746h1v1h-1zM695 747h1v1h-1zM694 748h1v1h-1zM693 749h1v1h-1zM692 750h1v1h-1zM691 751h1v1h-1zM690 752h1v1h-1zM688 753h2v1h-2zM687 754h1v1h-1zM686 755h1v1h-1zM685 756h1v1h-1zM684 757h1v1h-1zM683 758h1v1h-1zM682 759h1v1h-1zM681 760h1v1h-1zM679 761h2v1h-2zM678 762h1v1h-1zM677 763h1v1h-1zM676 764h1v1h-1zM675 765h1v1h-1zM674 766h1v1h-1zM673 767h1v1h-1zM672 768h1v1h-1zM671 769h1v1h-1zM669 770h2v1h-2zM668 771h1v1h-1zM667 772h1v1h-1zM666 773h1v1h-1zM665 774h1v1h-1zM664 775h1v1h-1zM663 776h1v1h-1zM662 777h1v1h-1zM660 778h2v1h-2zM659 779h1v1h-1zM658 780h1v1h-1zM657 781h1v1h-1zM656 782h1v1h-1zM655 783h1v1h-1zM654 784h1v1h-1zM653 785h1v1h-1zM652 786h1v1h-1zM650 787h2v1h-2zM646 788h1v2h-1zM649 788h1v1h-1zM648 789h1v1h-1zM646 790h2v1h-2zM643 791h7v1h-7zM644 792h3v1h-3zM643 793h1v1h-1zM646 793h1v2h-1zM642 794h1v1h-1zM640 795h2v1h-2zM639 796h1v1h-1zM638 797h1v1h-1zM636 798h2v1h-2zM635 799h1v1h-1zM634 800h1v1h-1zM632 801h2v1h-2zM631 802h1v1h-1zM630 803h1v1h-1zM628 804h2v1h-2zM627 805h1v1h-1zM626 806h1v1h-1zM624 807h2v1h-2zM623 808h1v1h-1zM621 809h2v1h-2zM620 810h1v1h-1zM619 811h1v1h-1zM617 812h2v1h-2zM616 813h1v1h-1zM615 814h1v1h-1zM613 815h2v1h-2zM612 816h1v1h-1zM611 817h1v1h-1zM609 818h2v1h-2zM608 819h1v1h-1zM607 820h1v1h-1zM605 821h2v1h-2zM604 822h1v1h-1zM603 823h1v1h-1zM601 824h2v1h-2zM600 825h1v1h-1zM599 826h1v1h-1zM597 827h2v1h-2zM596 828h1v1h-1zM594 829h2v1h-2zM593 830h1v1h-1zM592 831h1v1h-1zM590 832h2v1h-2zM589 833h1v1h-1zM588 834h1v1h-1zM586 835h2v1h-2zM585 836h1v1h-1zM584 837h1v1h-1zM582 838h2v1h-2zM581 839h1v1h-1zM580 840h1v1h-1zM578 841h2v1h-2zM577 842h1v1h-1zM576 843h1v1h-1zM574 844h2v1h-2zM573 845h1v1h-1zM571 846h2v1h-2zM570 847h1v1h-1zM569 848h1v1h-1zM567 849h2v1h-2zM566 850h1v1h-1zM565 851h1v1h-1zM563 852h2v1h-2zM562 853h1v1h-1zM561 854h1v1h-1zM559 855h2v1h-2zM558 856h1v1h-1zM557 857h1v1h-1zM555 858h2v1h-2zM554 859h1v1h-1zM553 860h1v1h-1zM551 861h2v1h-2zM550 862h1v1h-1zM549 863h1v1h-1zM547 864h2v1h-2zM546 865h1v1h-1zM544 866h2v1h-2zM543 867h1v1h-1zM542 868h1v1h-1zM540 869h2v1h-2zM539 870h1v1h-1zM538 871h1v1h-1zM536 872h2v1h-2zM535 873h1v1h-1zM534 874h1v1h-1zM532 875h2v1h-2zM531 876h1v1h-1zM530 877h1v1h-1zM528 878h2v1h-2zM523 879h1v2h-1zM527 879h1v1h-1zM526 880h1v1h-1zM523 881h3v1h-3zM520 882h7v1h-7zM521 883h3v1h-3zM520 884h1v1h-1zM523 884h1v2h-1zM518 885h2v1h-2zM516 886h2v1h-2zM515 887h1v1h-1zM513 888h2v1h-2zM512 889h1v1h-1zM510 890h2v1h-2zM509 891h1v1h-1zM507 892h2v1h-2zM506 893h1v1h-1zM504 894h2v1h-2zM502 895h2v1h-2zM501 896h1v1h-1zM499 897h2v1h-2zM498 898h1v1h-1zM496 899h2v1h-2zM495 900h1v1h-1zM493 901h2v1h-2zM492 902h1v1h-1zM490 903h2v1h-2zM488 904h2v1h-2zM487 905h1v1h-1zM485 906h2v1h-2zM484 907h1v1h-1zM482 908h2v1h-2zM481 909h1v1h-1zM479 910h2v1h-2zM478 911h1v1h-1zM476 912h2v1h-2zM474 913h2v1h-2zM473 914h1v1h-1zM471 915h2v1h-2zM470 916h1v1h-1zM468 917h2v1h-2zM467 918h1v1h-1zM465 919h2v1h-2zM464 920h1v1h-1zM462 921h2v1h-2zM460 922h2v1h-2zM459 923h1v1h-1zM457 924h2v1h-2zM456 925h1v1h-1zM454 926h2v1h-2zM453 927h1v1h-1zM451 928h2v1h-2zM450 929h1v1h-1zM448 930h2v1h-2zM446 931h2v1h-2zM445 932h1v1h-1zM443 933h2v1h-2zM442 934h1v1h-1zM440 935h2v1h-2zM439 936h1v1h-1zM437 937h2v1h-2zM436 938h1v1h-1zM434 939h2v1h-2zM432 940h2v1h-2zM431 941h1v1h-1zM429 942h2v1h-2zM428 943h1v1h-1zM426 944h2v1h-2zM425 945h1v1h-1zM423 946h2v1h-2zM422 947h1v1h-1zM420 948h2v1h-2zM418 949h2v1h-2zM417 950h1v1h-1zM415 951h2v1h-2zM414 952h1v1h-1zM412 953h2v1h-2zM411 954h1v1h-1zM409 955h2v1h-2zM408 956h1v1h-1zM406 957h2v1h-2zM400 958h1v2h-1zM404 958h2v1h-2zM403 959h1v1h-1zM400 960h3v1h-3zM397 961h7v1h-7zM398 962h3v1h-3zM396 963h2v1h-2zM400 963h1v2h-1zM394 964h2v1h-2zM393 965h1v1h-1zM391 966h2v1h-2zM389 967h2v1h-2zM387 968h2v1h-2zM386 969h1v1h-1zM384 970h2v1h-2zM382 971h2v1h-2zM380 972h2v1h-2zM379 973h1v1h-1zM377 974h2v1h-2zM375 975h2v1h-2zM373 976h2v1h-2zM372 977h1v1h-1zM370 978h2v1h-2zM368 979h2v1h-2zM366 980h2v1h-2zM364 981h2v1h-2zM363 982h1v1h-1zM361 983h2v1h-2zM359 984h2v1h-2zM357 985h2v1h-2zM356 986h1v1h-1zM354 987h2v1h-2zM352 988h2v1h-2zM350 989h2v1h-2zM349 990h1v1h-1zM347 991h2v1h-2zM345 992h2v1h-2zM343 993h2v1h-2zM342 994h1v1h-1zM340 995h2v1h-2zM338 996h2v1h-2zM336 997h2v1h-2zM335 998h1v1h-1zM333 999h2v1h-2zM331 1000h2v1h-2zM329 1001h2v1h-2zM328 1002h1v1h-1zM326 1003h2v1h-2zM324 1004h2v1h-2zM322 1005h2v1h-2zM321 1006h1v1h-1zM319 1007h2v1h-2zM317 1008h2v1h-2zM315 1009h2v1h-2zM314 1010h1v1h-1zM312 1011h2v1h-2zM310 1012h2v1h-2zM308 1013h2v1h-2zM306 1014h2v1h-2zM305 1015h1v1h-1zM303 1016h2v1h-2zM301 1017h2v1h-2zM299 1018h2v1h-2zM298 1019h1v1h-1zM296 1020h2v1h-2zM294 1021h2v1h-2zM292 1022h2v1h-2zM291 1023h1v1h-1zM289 1024h2v1h-2zM287 1025h2v1h-2zM285 1026h2v1h-2zM284 1027h1v1h-1zM277 1028h1v2h-1zM282 1028h2v1h-2zM280 1029h2v1h-2zM277 1030h3v1h-3zM274 1031h7v1h-7zM275 1032h3v1h-3zM273 1033h2v1h-2zM277 1033h1v2h-1zM271 1034h2v1h-2zM269 1035h2v1h-2zM267 1036h2v1h-2zM265 1037h2v1h-2zM264 1038h1v1h-1zM262 1039h2v1h-2zM260 1040h2v1h-2zM258 1041h2v1h-2zM256 1042h2v1h-2zM254 1043h2v1h-2zM252 1044h2v1h-2zM250 1045h2v1h-2zM249 1046h1v1h-1zM247 1047h2v1h-2zM245 1048h2v1h-2zM243 1049h2v1h-2zM241 1050h2v1h-2zM239 1051h2v1h-2zM237 1052h2v1h-2zM236 1053h1v1h-1zM234 1054h2v1h-2zM232 1055h2v1h-2zM230 1056h2v1h-2zM228 1057h2v1h-2zM226 1058h2v1h-2zM224 1059h2v1h-2zM223 1060h1v1h-1zM221 1061h2v1h-2zM219 1062h2v1h-2zM217 1063h2v1h-2zM215 1064h2v1h-2zM213 1065h2v1h-2zM211 1066h2v1h-2zM209 1067h2v1h-2zM208 1068h1v1h-1zM206 1069h2v1h-2zM204 1070h2v1h-2zM202 1071h2v1h-2zM200 1072h2v1h-2zM198 1073h2v1h-2zM196 1074h2v1h-2zM195 1075h1v1h-1zM193 1076h2v1h-2zM191 1077h2v1h-2zM189 1078h2v1h-2zM187 1079h2v1h-2zM185 1080h2v1h-2zM183 1081h2v1h-2zM182 1082h1v1h-1zM180 1083h2v1h-2zM178 1084h2v1h-2zM176 1085h2v1h-2zM174 1086h2v1h-2zM172 1087h2v1h-2zM170 1088h2v1h-2zM168 1089h2v1h-2zM167 1090h1v1h-1zM165 1091h2v1h-2zM163 1092h2v1h-2zM161 1093h2v1h-2zM154 1094h1v2h-1zM159 1094h2v1h-2zM157 1095h2v1h-2zM154 1096h3v1h-3zM151 1097h7v1h-7zM154 1098h1v3h-1z"/>
<path fill="#ff0000" d="M766 791h1v1h-1zM772 791h1v1h-1zM767 792h1v1h-1zM771 792h1v1h-1zM768 793h1v1h-1zM770 793h1v1h-1zM769 794h1v1h-1zM767 795h2v1h-2zM770 795h1v1h-1zM765 796h3v1h-3zM771 796h1v1h-1zM763 797h2v1h-2zM766 797h1v1h-1zM772 797h1v1h-1zM761 798h2v1h-2zM759 799h2v1h-2zM757 800h2v1h-2zM755 801h2v1h-2zM753 802h2v1h-2zM751 803h2v1h-2zM749 804h2v1h-2zM747 805h2v1h-2zM745 806h2v1h-2zM743 807h2v1h-2zM741 808h2v1h-2zM739 809h2v1h-2zM737 810h2v1h-2zM735 811h2v1h-2zM733 812h2v1h-2zM731 813h2v1h-2zM729 814h2v1h-2zM728 815h1v1h-1zM726 816h2v1h-2zM724 817h2v1h-2zM722 818h2v1h-2zM720 819h2v1h-2zM718 820h2v1h-2zM716 821h2v1h-2zM714 822h2v1h-2zM712 823h2v1h-2zM710 824h2v1h-2zM708 825h2v1h-2zM706 826h2v1h-2zM704 827h2v1h-2zM702 828h2v1h-2zM700 829h2v1h-2zM698 830h2v1h-2zM696 831h2v1h-2zM694 832h2v1h-2zM692 833h2v1h-2zM690 834h2v1h-2zM688 835h2v1h-2zM687 836h1v1h-1zM685 837h2v1h-2zM683 838h2v1h-2zM681 839h2v1h-2zM679 840h2v1h-2zM677 841h2v1h-2zM675 842h2v1h-2zM673 843h2v1h-2zM671 844h2v1h-2zM669 845h2v1h-2zM667 846h2v1h-2zM665 847h2v1h-2zM663 848h2v1h-2zM661 849h2v1h-2zM659 850h2v1h-2zM657 851h2v1h-2zM655 852h2v1h-2zM653 853h2v1h-2zM643 854h1v1h-1zM649 854h1v1h-1zM651 854h2v1h-2zM644 855h1v1h-1zM648 855h3v1h-3zM645 856h1v1h-1zM647 856h2v1h-2zM645 857h2v1h-2zM643 858h3v1h-3zM647 858h1v1h-1zM641 859h2v1h-2zM644 859h1v1h-1zM648 859h1v1h-1zM639 860h2v1h-2zM643 860h1v1h-1zM649 860h1v1h-1zM637 861h2v1h-2zM635 862h2v1h-2zM633 863h2v1h-2zM631 864h2v1h-2zM629 865h2v1h-2zM627 866h2v1h-2zM625 867h2v1h-2zM623 868h2v1h-2zM621 869h2v1h-2zM619 870h2v1h-2zM617 871h2v1h-2zM615 872h2v1h-2zM613 873h2v1h-2zM611 874h2v1h-2zM609 875h2v1h-2zM607 876h2v1h-2zM604 877h3v1h-3zM602 878h2v1h-2zM600 879h2v1h-2zM598 880h2v1h-2zM596 881h2v1h-2zM594 882h2v1h-2zM592 883h2v1h-2zM590 884h2v1h-2zM588 885h2v1h-2zM586 886h2v1h-2zM584 887h2v1h-2zM582 888h2v1h-2zM580 889h2v1h-2zM578 890h2v1h-2zM576 891h2v1h-2zM574 892h2v1h-2zM572 893h2v1h-2zM570 894h2v1h-2zM568 895h2v1h-2zM566 896h2v1h-2zM563 897h3v1h-3zM561 898h2v1h-2zM559 899h2v1h-2zM557 900h2v1h-2zM555 901h2v1h-2zM553 902h2v1h-2zM551 903h2v1h-2zM549 904h2v1h-2zM547 905h2v1h-2zM545 906h2v1h-2zM543 907h2v1h-2zM541 908h2v1h-2zM539 909h2v1h-2zM537 910h2v1h-2zM535 911h2v1h-2zM533 912h2v1h-2zM531 913h2v1h-2zM520 914h1v1h-1zM526 914h1v1h-1zM529 914h2v1h-2zM521 915h1v1h-1zM525 915h1v1h-1zM527 915h2v1h-2zM522 916h1v1h-1zM524 916h3v1h-3zM523 917h2v1h-2zM521 918h2v1h-2zM524 918h1v1h-1zM519 919h3v1h-3zM525 919h1v1h-1zM517 920h2v1h-2zM520 920h1v1h-1zM526 920h1v1h-1zM515 921h2v1h-2zM513 922h2v1h-2zM511 923h2v1h-2zM509 924h2v1h-2zM507 925h2v1h-2zM505 926h2v1h-2zM503 927h2v1h-2zM501 928h2v1h-2zM499 929h2v1h-2zM497 930h2v1h-2zM495 931h2v1h-2zM493 932h2v1h-2zM491 933h2v1h-2zM489 934h2v1h-2zM487 935h2v1h-2zM485 936h2v1h-2zM483 937h2v1h-2zM481 938h2v1h-2zM479 939h2v1h-2zM477 940h2v1h-2zM475 941h2v1h-2zM473 942h2v1h-2zM471 943h2v1h-2zM469 944h2v1h-2zM467 945h2v1h-2zM465 946h2v1h-2zM463 947h2v1h-2zM461 948h2v1h-2zM459 949h2v1h-2zM457 950h2v1h-2zM455 951h2v1h-2zM453 952h2v1h-2zM451 953h2v1h-2zM449 954h2v1h-2zM447 955h2v1h-2zM445 956h2v1h-2zM443 957h2v1h-2zM441 958h2v1h-2zM439 959h2v1h-2zM437 960h2v1h-2zM435 961h2v1h-2zM433 962h2v1h-2zM431 963h2v1h-2zM429 964h2v1h-2zM427 965h2v1h-2zM425 966h2v1h-2zM423 967h2v1h-2zM421 968h2v1h-2zM419 969h2v1h-2zM417 970h2v1h-2zM415 971h2v1h-2zM413 972h2v1h-2zM411 973h2v1h-2zM409 974h2v1h-2zM407 975h2v1h-2zM397 976h1v1h-1zM403 976h1v1h-1zM405 976h2v1h-2zM398 977h1v1h-1zM402 977h3v1h-3zM399 978h1v1h-1zM401 978h2v1h-2zM400 979h1v1h-1zM398 980h2v1h-2zM401 980h1v1h-1zM396 981h3v1h-3zM402 981h1v1h-1zM394 982h2v1h-2zM397 982h1v1h-1zM403 982h1v1h-1zM392 983h2v1h-2zM390 984h2v1h-2zM388 985h2v1h-2zM386 986h2v1h-2zM384 987h2v1h-2zM382 988h2v1h-2zM380 989h2v1h-2zM378 990h2v1h-2zM376 991h2v1h-2zM374 992h2v1h-2zM372 993h2v1h-2zM370 994h2v1h-2zM368 995h2v1h-2zM366 996h2v1h-2zM364 997h2v1h-2zM362 998h2v1h-2zM360 999h2v1h-2zM358 1000h2v1h-2zM356 1001h2v1h-2zM354 1002h2v1h-2zM352 1003h2v1h-2zM350 1004h2v1h-2zM348 1005h2v1h-2zM346 1006h2v1h-2zM344 1007h2v1h-2zM342 1008h2v1h-2zM340 1009h2v1h-2zM338 1010h2v1h-2zM336 1011h2v1h-2zM334 1012h2v1h-2zM332 1013h2v1h-2zM330 1014h2v1h-2zM328 1015h2v1h-2zM326 1016h2v1h-2zM324 1017h2v1h-2zM322 1018h2v1h-2zM320 1019h2v1h-2zM318 1020h2v1h-2zM316 1021h2v1h-2zM314 1022h2v1h-2zM312 1023h2v1h-2zM310 1024h2v1h-2zM308 1025h2v1h-2zM306 1026h2v1h-2zM304 1027h2v1h-2zM302 1028h2v1h-2zM300 1029h2v1h-2zM298 1030h2v1h-2zM296 1031h2v1h-2zM294 1032h2v1h-2zM292 1033h2v1h-2zM290 1034h2v1h-2zM288 1035h2v1h-2zM286 1036h2v1h-2zM284 1037h2v1h-2zM274 1038h1v1h-1zM280 1038h1v1h-1zM282 1038h2v1h-2zM275 1039h1v1h-1zM279 1039h3v1h-3zM276 1040h1v1h-1zM278 1040h2v1h-2zM276 1041h2v1h-2zM274 1042h3v1h-3zM278 1042h1v1h-1zM271 1043h3v1h-3zM275 1043h1v1h-1zM279 1043h1v1h-1zM269 1044h2v1h-2zM274 1044h1v1h-1zM280 1044h1v1h-1zM267 1045h2v1h-2zM264 1046h3v1h-3zM262 1047h2v1h-2zM259 1048h3v1h-3zM257 1049h2v1h-2zM255 1050h2v1h-2zM252 1051h3v1h-3zM250 1052h2v1h-2zM247 1053h3v1h-3zM245 1054h2v1h-2zM243 1055h2v1h-2zM240 1056h3v1h-3zM238 1057h2v1h-2zM235 1058h3v1h-3zM233 1059h2v1h-2zM230 1060h3v1h-3zM228 1061h2v1h-2zM226 1062h2v1h-2zM223 1063h3v1h-3zM221 1064h2v1h-2zM218 1065h3v1h-3zM216 1066h2v1h-2zM214 1067h2v1h-2zM211 1068h3v1h-3zM209 1069h2v1h-2zM206 1070h3v1h-3zM204 1071h2v1h-2zM202 1072h2v1h-2zM199 1073h3v1h-3zM197 1074h2v1h-2zM194 1075h3v1h-3zM192 1076h2v1h-2zM189 1077h3v1h-3zM187 1078h2v1h-2zM185 1079h2v1h-2zM182 1080h3v1h-3zM180 1081h2v1h-2zM177 1082h3v1h-3zM175 1083h2v1h-2zM173 1084h2v1h-2zM170 1085h3v1h-3zM168 1086h2v1h-2zM165 1087h3v1h-3zM163 1088h2v1h-2zM151 1089h1v1h-1zM157 1089h1v1h-1zM161 1089h2v1h-2zM152 1090h1v1h-1zM156 1090h1v1h-1zM158 1090h3v1h-3zM153 1091h1v1h-1zM155 1091h3v1h-3zM154 1092h2v1h-2zM153 1093h1v1h-1zM155 1093h1v1h-1zM152 1094h1v1h-1zM156 1094h1v1h-1zM151 1095h1v1h-1zM157 1095h1v1h-1z"/>
<path fill="#0000ff" d="M766 767h1v1h-1zM769 767h1v2h-1zM772 767h1v1h-1zM767 768h1v1h-1zM771 768h1v1h-1zM768 769h3v1h-3zM766 770h7v1h-7zM767 771h4v1h-4zM765 772h3v1h-3zM769 772h1v2h-1zM771 772h1v1h-1zM763 773h2v1h-2zM766 773h1v1h-1zM772 773h1v1h-1zM762 774h1v1h-1zM760 775h2v1h-2zM758 776h2v1h-2zM757 777h1v1h-1zM755 778h2v1h-2zM753 779h2v1h-2zM751 780h2v1h-2zM750 781h1v1h-1zM748 782h2v1h-2zM746 783h2v1h-2zM744 784h2v1h-2zM743 785h1v1h-1zM741 786h2v1h-2zM739 787h2v1h-2zM737 788h2v1h-2zM736 789h1v1h-1zM734 790h2v1h-2zM732 791h2v1h-2zM731 792h1v1h-1zM729 793h2v1h-2zM727 794h2v1h-2zM725 795h2v1h-2zM724 796h1v1h-1zM722 797h2v1h-2zM720 798h2v1h-2zM718 799h2v1h-2zM717 800h1v1h-1zM715 801h2v1h-2zM713 802h2v1h-2zM711 803h2v1h-2zM710 804h1v1h-1zM708 805h2v1h-2zM706 806h2v1h-2zM705 807h1v1h-1zM703 808h2v1h-2zM701 809h2v1h-2zM699 810h2v1h-2zM698 811h1v1h-1zM696 812h2v1h-2zM694 813h2v1h-2zM692 814h2v1h-2zM691 815h1v1h-1zM689 816h2v1h-2zM687 817h2v1h-2zM685 818h2v1h-2zM684 819h1v1h-1zM682 820h2v1h-2zM680 821h2v1h-2zM679 822h1v1h-1zM677 823h2v1h-2zM675 824h2v1h-2zM673 825h2v1h-2zM672 826h1v1h-1zM670 827h2v1h-2zM668 828h2v1h-2zM666 829h2v1h-2zM665 830h1v1h-1zM663 831h2v1h-2zM661 832h2v1h-2zM659 833h2v1h-2zM658 834h1v1h-1zM656 835h2v1h-2zM654 836h2v1h-2zM653 837h1v1h-1zM643 838h1v1h-1zM646 838h1v2h-1zM649 838h1v1h-1zM651 838h2v1h-2zM644 839h1v1h-1zM648 839h3v1h-3zM645 840h4v1h-4zM643 841h7v1h-7zM644 842h4v1h-4zM642 843h3v1h-3zM646 843h1v2h-1zM648 843h1v1h-1zM640 844h2v1h-2zM643 844h1v1h-1zM649 844h1v1h-1zM638 845h2v1h-2zM636 846h2v1h-2zM634 847h2v1h-2zM632 848h2v1h-2zM630 849h2v1h-2zM628 850h2v1h-2zM626 851h2v1h-2zM624 852h2v1h-2zM622 853h2v1h-2zM621 854h1v1h-1zM619 855h2v1h-2zM617 856h2v1h-2zM615 857h2v1h-2zM613 858h2v1h-2zM611 859h2v1h-2zM609 860h2v1h-2zM607 861h2v1h-2zM605 862h2v1h-2zM603 863h2v1h-2zM601 864h2v1h-2zM599 865h2v1h-2zM597 866h2v1h-2zM596 867h1v1h-1zM594 868h2v1h-2zM592 869h2v1h-2zM590 870h2v1h-2zM588 871h2v1h-2zM586 872h2v1h-2zM584 873h2v1h-2zM582 874h2v1h-2zM580 875h2v1h-2zM578 876h2v1h-2zM576 877h2v1h-2zM574 878h2v1h-2zM573 879h1v1h-1zM571 880h2v1h-2zM569 881h2v1h-2zM567 882h2v1h-2zM565 883h2v1h-2zM563 884h2v1h-2zM561 885h2v1h-2zM559 886h2v1h-2zM557 887h2v1h-2zM555 888h2v1h-2zM553 889h2v1h-2zM551 890h2v1h-2zM549 891h2v1h-2zM548 892h1v1h-1zM546 893h2v1h-2zM544 894h2v1h-2zM542 895h2v1h-2zM540 896h2v1h-2zM538 897h2v1h-2zM536 898h2v1h-2zM534 899h2v1h-2zM532 900h2v1h-2zM530 901h2v1h-2zM520 902h1v1h-1zM523 902h1v2h-1zM526 902h1v1h-1zM528 902h2v1h-2zM521 903h1v1h-1zM525 903h3v1h-3zM522 904h4v1h-4zM520 905h7v1h-7zM521 906h4v1h-4zM519 907h3v1h-3zM523 907h1v2h-1zM525 907h1v1h-1zM518 908h1v1h-1zM520 908h1v1h-1zM526 908h1v1h-1zM516 909h2v1h-2zM514 910h2v1h-2zM513 911h1v1h-1zM511 912h2v1h-2zM509 913h2v1h-2zM507 914h2v1h-2zM506 915h1v1h-1zM504 916h2v1h-2zM502 917h2v1h-2zM501 918h1v1h-1zM499 919h2v1h-2zM497 920h2v1h-2zM496 921h1v1h-1zM494 922h2v1h-2zM492 923h2v1h-2zM491 924h1v1h-1zM489 925h2v1h-2zM487 926h2v1h-2zM486 927h1v1h-1zM484 928h2v1h-2zM482 929h2v1h-2zM481 930h1v1h-1zM479 931h2v1h-2zM477 932h2v1h-2zM475 933h2v1h-2zM474 934h1v1h-1zM472 935h2v1h-2zM470 936h2v1h-2zM469 937h1v1h-1zM467 938h2v1h-2zM465 939h2v1h-2zM464 940h1v1h-1zM462 941h2v1h-2zM460 942h2v1h-2zM459 943h1v1h-1zM457 944h2v1h-2zM455 945h2v1h-2zM454 946h1v1h-1zM452 947h2v1h-2zM450 948h2v1h-2zM449 949h1v1h-1zM447 950h2v1h-2zM445 951h2v1h-2zM443 952h2v1h-2zM442 953h1v1h-1zM440 954h2v1h-2zM438 955h2v1h-2zM437 956h1v1h-1zM435 957h2v1h-2zM433 958h2v1h-2zM432 959h1v1h-1zM430 960h2v1h-2zM428 961h2v1h-2zM427 962h1v1h-1zM425 963h2v1h-2zM423 964h2v1h-2zM422 965h1v1h-1zM420 966h2v1h-2zM418 967h2v1h-2zM417 968h1v1h-1zM415 969h2v1h-2zM413 970h2v1h-2zM411 971h2v1h-2zM410 972h1v1h-1zM408 973h2v1h-2zM406 974h2v1h-2zM397 975h1v1h-1zM400 975h1v2h-1zM403 975h1v1h-1zM405 975h1v1h-1zM398 976h1v1h-1zM402 976h3v1h-3zM399 977h4v1h-4zM397 978h7v1h-7zM398 979h4v1h-4zM396 980h3v1h-3zM400 980h1v2h-1zM402 980h1v1h-1zM394 981h2v1h-2zM397 981h1v1h-1zM403 981h1v1h-1zM392 982h2v1h-2zM390 983h2v1h-2zM388 984h2v1h-2zM386 985h2v1h-2zM384 986h2v1h-2zM382 987h2v1h-2zM380 988h2v1h-2zM378 989h2v1h-2zM376 990h2v1h-2zM374 991h2v1h-2zM372 992h2v1h-2zM370 993h2v1h-2zM368 994h2v1h-2zM366 995h2v1h-2zM364 996h2v1h-2zM362 997h2v1h-2zM360 998h2v1h-2zM358 999h2v1h-2zM356 1000h2v1h-2zM354 1001h2v1h-2zM352 1002h2v1h-2zM350 1003h2v1h-2zM348 1004h2v1h-2zM346 1005h2v1h-2zM344 1006h2v1h-2zM342 1007h2v1h-2zM340 1008h2v1h-2zM338 1009h2v1h-2zM336 1010h2v1h-2zM334 1011h2v1h-2zM332 1012h2v1h-2zM330 1013h2v1h-2zM328 1014h2v1h-2zM326 1015h2v1h-2zM324 1016h2v1h-2zM322 1017h2v1h-2zM320 1018h2v1h-2zM318 1019h2v1h-2zM316 1020h2v1h-2zM314 1021h2v1h-2zM312 1022h2v1h-2zM310 1023h2v1h-2zM308 1024h2v1h-2zM306 1025h2v1h-2zM304 1026h2v1h-2zM302 1027h2v1h-2zM300 1028h2v1h-2zM298 1029h2v1h-2zM296 1030h2v1h-2zM294 1031h2v1h-2zM292 1032h2v1h-2zM290 1033h2v1h-2zM288 1034h2v1h-2zM286 1035h2v1h-2zM284 1036h2v1h-2zM274 1037h1v1h-1zM277 1037h1v2h-1zM280 1037h1v1h-1zM282 1037h2v1h-2zM275 1038h1v1h-1zM279 1038h3v1h-3zM276 1039h4v1h-4zM274 1040h7v1h-7zM274 1041h5v1h-5zM271 1042h3v1h-3zM275 1042h1v1h-1zM277 1042h1v2h-1zM279 1042h1v1h-1zM269 1043h2v1h-2zM274 1043h1v1h-1zM280 1043h1v1h-1zM266 1044h3v1h-3zM264 1045h2v1h-2zM262 1046h2v1h-2zM259 1047h3v1h-3zM257 1048h2v1h-2zM254 1049h3v1h-3zM252 1050h2v1h-2zM249 1051h3v1h-3zM247 1052h2v1h-2zM244 1053h3v1h-3zM242 1054h2v1h-2zM239 1055h3v1h-3zM237 1056h2v1h-2zM234 1057h3v1h-3zM232 1058h2v1h-2zM230 1059h2v1h-2zM227 1060h3v1h-3zM225 1061h2v1h-2zM222 1062h3v1h-3zM220 1063h2v1h-2zM217 1064h3v1h-3zM215 1065h2v1h-2zM212 1066h3v1h-3zM210 1067h2v1h-2zM207 1068h3v1h-3zM205 1069h2v1h-2zM202 1070h3v1h-3zM200 1071h2v1h-2zM198 1072h2v1h-2zM195 1073h3v1h-3zM193 1074h2v1h-2zM190 1075h3v1h-3zM188 1076h2v1h-2zM185 1077h3v1h-3zM183 1078h2v1h-2zM180 1079h3v1h-3zM178 1080h2v1h-2zM175 1081h3v1h-3zM173 1082h2v1h-2zM170 1083h3v1h-3zM168 1084h2v1h-2zM166 1085h2v1h-2zM163 1086h3v1h-3zM151 1087h1v1h-1zM154 1087h1v2h-1zM157 1087h1v1h-1zM161 1087h2v1h-2zM152 1088h1v1h-1zM156 1088h1v1h-1zM158 1088h3v1h-3zM153 1089h5v1h-5zM151 1090h7v1h-7zM153 1091h3v1h-3zM152 1092h1v1h-1zM154 1092h1v2h-1zM156 1092h1v1h-1zM151 1093h1v1h-1zM157 1093h1v1h-1z"/>
<path fill="#00ff00" d="M288 670h1v3h-1zM264 673h49v1h-49zM288 674h1v3h-1z"/>
<path fill="#ff0000" d="M285 689h1v1h-1zM291 689h1v1h-1zM286 690h1v1h-1zM290 690h1v1h-1zM287 691h1v1h-1zM289 691h1v1h-1zM264 692h49v1h-49zM287 693h1v1h-1zM289 693h1v1h-1zM286 694h1v1h-1zM290 694h1v1h-1zM285 695h1v1h-1zM291 695h1v1h-1z"/>
<path fill="#0000ff" d="M285 708h1v1h-1zM288 708h1v2h-1zM291 708h1v1h-1zM286 709h1v1h-1zM290 709h1v1h-1zM287 710h3v1h-3zM264 711h49v1h-49zM287 712h3v1h-3zM286 713h1v1h-1zM288 713h1v2h-1zM290 713h1v1h-1zM285 714h1v1h-1zM291 714h1v1h-1z"/>
<path fill="#000" d="M154 656h616v1h-616zM154 657h1v482h-1zM769 657h1v482h-1zM154 1139h616v1h-616z"/>
<filter id="tg" filterUnits="userSpaceOnUse" x="0" y="0" width="800" height="1200"><feComponentTransfer><feFuncA type="gamma" amplitude="1" exponent="1.6" offset="0"/></feComponentTransfer></filter>
<g filter="url(#tg)"><text x="174.25 181.75 187.75 193.25 201.75 210.25 218.25 226.5" y="79">arrayset</text><text x="175.75 184.25 193.25 200.75 210.25 218.25 226.5" y="98">hashset</text><text x="166.25 174.25 181.75 187.5 193.25 201.25 210.25 218.25 226.5" y="117">sortedset</text><text x="105.77 113.05" y="544">10</text><text x="96.77 104.05 113.05" y="475">100</text><text x="87.77 95.05 104.05 113.05" y="406">1000</text><text x="78.77 86.05 95.05 104.05 113.05" y="337">10000</text><text x="69.77 77.05 86.05 95.05 104.05 113.05" y="269">100000</text><text x="60.77 68.05 77.05 86.05 95.05 104.05 113.05" y="200">1000000</text><text x="51.77 59.05 68.05 77.05 86.05 95.05 104.05 113.05" y="131">10000000</text><text x="42.77 50.05 59.05 68.05 77.05 86.05 95.05 104.05 113.05" y="62">100000000</text><text x="129.77" y="563">1</text><text x="251.77 259.05" y="563">10</text><text x="374.77 382.05 391.05" y="563">100</text><text x="496.77 504.05 513.05 522.05" y="563">1000</text><text x="619.77 627.05 636.05 645.05 654.05" y="563">10000</text><text x="741.77 749.05 758.05 767.05 776.05 785.05" y="563">100000</text><text x="410.25 417.75 423.25 432.25 440.5 445.25 454.15 458.75 467.75 476.75 480.75" y="33">create bulk</text><text x="443.75" y="591">N</text><text x="-8.45 0.95" y="0" transform="translate(18 300.0) rotate(-90)">ns</text><text x="194.25 201.75 207.75 213.25 221.75 230.25 238.25 246.5" y="678">arrayset</text><text x="195.75 204.25 213.25 220.75 230.25 238.25 246.5" y="697">hashset</text><text x="186.25 194.25 201.75 207.5 213.25 221.25 230.25 238.25 246.5" y="716">sortedset</text><text x="125.77 133.05" y="1144">10</text><text x="116.77 124.05 133.05" y="1090">100</text><text x="107.77 115.05 124.05 133.05" y="1037">1000</text><text x="98.77 106.05 115.05 124.05 133.05" y="983">10000</text><text x="89.77 97.05 106.05 115.05 124.05 133.05" y="929">100000</text><text x="80.77 88.05 97.05 106.05 115.05 124.05 133.05" y="876">1000000</text><text x="71.77 79.05 88.05 97.05 106.05 115.05 124.05 133.05" y="822">10000000</text><text x="62.77 70.05 79.05 88.05 97.05 106.05 115.05 124.05 133.05" y="768">100000000</text><text x="53.77 61.05 70.05 79.05 88.05 97.05 106.05 115.05 124.05 133.05" y="715">1000000000</text><text x="44.77 52.05 61.05 70.05 79.05 88.05 97.05 106.05 115.05 124.05 133.05" y="661">10000000000</text><text x="149.77" y="1163">1</text><text x="267.77 275.05" y="1163">10</text><text x="386.77 394.05 403.05" y="1163">100</text><text x="504.77 512.05 521.05 530.05" y="1163">1000</text><text x="623.77 631.05 640.05 649.05 658.05" y="1163">10000</text><text x="741.77 749.05 758.05 767.05 776.05 785.05" y="1163">100000</text><text x="391.25 398.75 404.25 413.25 421.5 426.25 435.15 440.25 448.75 453.25 461.75 475.25 482.75 491.5 497 507.75 512.25 520.25" y="632">create elementwise</text><text x="453.75" y="1191">N</text><text x="-8.45 0.95" y="0" transform="translate(18 899.5) rotate(-90)">ns</text></g>
<path fill="#fff" d="M106 542h4v2h-4zM111 542h3v2h-3zM97 473h4v2h-4zM102 473h3v2h-3zM88 404h4v2h-4zM93 404h3v2h-3zM79 335h4v2h-4zM84 335h3v2h-3zM70 267h4v2h-4zM75 267h3v2h-3zM61 198h4v2h-4zM66 198h3v2h-3zM52 129h4v2h-4zM57 129h3v2h-3zM43 60h4v2h-4zM48 60h3v2h-3zM130 561h4v2h-4zM135 561h3v2h-3zM252 561h4v2h-4zM257 561h3v2h-3zM375 561h4v2h-4zM380 561h3v2h-3zM497 561h4v2h-4zM502 561h3v2h-3zM620 561h4v2h-4zM625 561h3v2h-3zM742 561h4v2h-4zM747 561h3v2h-3zM126 1142h4v2h-4zM131 1142h3v2h-3zM117 1088h4v2h-4zM122 1088h3v2h-3zM108 1035h4v2h-4zM113 1035h3v2h-3zM99 981h4v2h-4zM104 981h3v2h-3zM90 927h4v2h-4zM95 927h3v2h-3zM81 874h4v2h-4zM86 874h3v2h-3zM72 820h4v2h-4zM77 820h3v2h-3zM63 766h4v2h-4zM68 766h3v2h-3zM54 713h4v2h-4zM59 713h3v2h-3zM45 659h4v2h-4zM50 659h3v2h-3zM150 1161h4v2h-4zM155 1161h3v2h-3zM268 1161h4v2h-4zM273 1161h3v2h-3zM387 1161h4v2h-4zM392 1161h3v2h-3zM505 1161h4v2h-4zM510 1161h3v2h-3zM624 1161h4v2h-4zM629 1161h3v2h-3zM742 1161h4v2h-4zM747 1161h3v2h-3z"/></svg>
</body></html>
